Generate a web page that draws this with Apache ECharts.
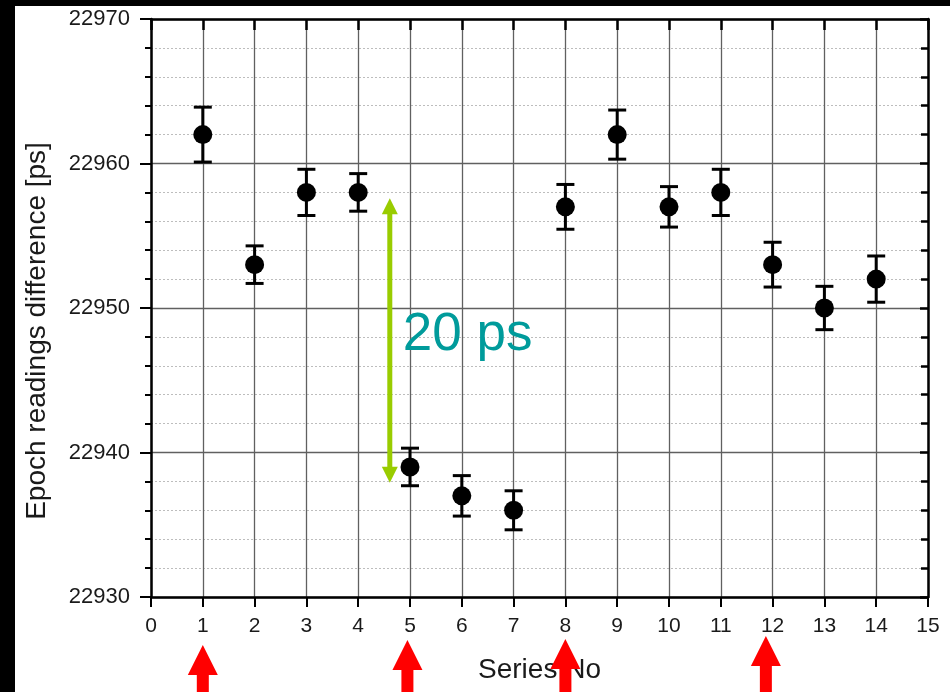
<!DOCTYPE html>
<html>
<head>
<meta charset="utf-8">
<script src="https://cdn.jsdelivr.net/npm/echarts@6/dist/echarts.min.js"></script>
<style>
  html, body { margin: 0; padding: 0; background: #fff; }
  #main { width: 950px; height: 692px; }
</style>
</head>
<body>
<div id="main"></div>
<script>
// values
const seriesNo = [1, 2, 3, 4, 5, 6, 7, 8, 9, 10, 11, 12, 13, 14];
const epochDiff = [22962, 22953, 22958, 22958, 22939, 22937, 22936, 22957, 22962, 22957, 22958, 22953, 22950, 22952];
const errBar = [1.9, 1.3, 1.6, 1.3, 1.3, 1.4, 1.35, 1.55, 1.7, 1.4, 1.6, 1.55, 1.5, 1.6];
const xTicks = [0, 15];
const yTicks = [22930, 22970];

// annotations
const redArrowAt = [1, 4.95, 8, 11.87];
const redArrowTip = [645, 640, 639, 636];
const gapArrow = { x: 4.61, from: 22957.6, to: 22937.9 };
const gapLabel = { text: '20 ps', x: 4.86, y: 22948.1 };

const FONT = '"Liberation Sans", Arial, sans-serif';
const chart = echarts.init(document.getElementById('main'));

const blackAxis = { show: true, onZero: false, lineStyle: { color: '#000', width: 2.5 } };

const option = {
  animation: false,
  backgroundColor: '#fff',
  textStyle: { fontFamily: FONT },
  grid: { left: 151, right: 22, top: 19, bottom: 95 },
  xAxis: [
    {
      type: 'value', min: xTicks[0], max: xTicks[1], interval: 1,
      position: 'bottom',
      axisLine: blackAxis,
      axisTick: { show: true, length: 10, lineStyle: { color: '#000', width: 2 } },
      axisLabel: { fontSize: 21, color: '#1a1a1a', margin: 19, fontFamily: FONT },
      splitLine: { show: true, lineStyle: { color: '#606060', width: 1.3 } },
      name: 'Series No', nameLocation: 'middle', nameGap: 59,
      nameTextStyle: { fontSize: 28, color: '#1a1a1a', fontFamily: FONT }
    },
    {
      type: 'value', min: xTicks[0], max: xTicks[1], interval: 1,
      position: 'top',
      axisLine: blackAxis,
      axisTick: { show: true, inside: true, length: 11, lineStyle: { color: '#000', width: 2.5 } },
      axisLabel: { show: false },
      splitLine: { show: false }
    }
  ],
  yAxis: [
    {
      type: 'value', min: yTicks[0], max: yTicks[1], interval: 10,
      position: 'left',
      axisLine: blackAxis,
      axisTick: { show: true, length: 11, lineStyle: { color: '#000', width: 2 } },
      minorTick: { show: true, splitNumber: 5, length: 6, lineStyle: { color: '#000', width: 2 } },
      axisLabel: { fontSize: 22, color: '#1a1a1a', margin: 21, fontFamily: FONT, formatter: v => String(v) },
      splitLine: { show: true, lineStyle: { color: '#606060', width: 1.3 } },
      minorSplitLine: { show: true, lineStyle: { color: '#bdbdbd', width: 1, type: [2, 2] } }
    },
    {
      type: 'value', min: yTicks[0], max: yTicks[1], interval: 10,
      position: 'right',
      axisLine: blackAxis,
      axisTick: { show: true, inside: true, length: 8, lineStyle: { color: '#000', width: 2.5 } },
      minorTick: { show: true, splitNumber: 5, length: 7, lineStyle: { color: '#000', width: 2.5 } },
      axisLabel: { show: false },
      splitLine: { show: false }
    }
  ],
  series: [
    {
      type: 'custom',
      name: 'error',
      z: 3,
      data: seriesNo.map((x, i) => [x, epochDiff[i] - errBar[i], epochDiff[i] + errBar[i]]),
      encode: { x: 0, y: [1, 2] },
      renderItem(params, api) {
        const x = api.value(0);
        const lo = api.coord([x, api.value(1)]);
        const hi = api.coord([x, api.value(2)]);
        const hw = 9;
        const style = { stroke: '#000', lineWidth: 3, fill: null };
        return {
          type: 'group',
          children: [
            { type: 'line', shape: { x1: lo[0], y1: lo[1], x2: hi[0], y2: hi[1] }, style },
            { type: 'line', shape: { x1: lo[0] - hw, y1: lo[1], x2: lo[0] + hw, y2: lo[1] }, style },
            { type: 'line', shape: { x1: hi[0] - hw, y1: hi[1], x2: hi[0] + hw, y2: hi[1] }, style }
          ]
        };
      }
    },
    {
      type: 'scatter',
      name: 'epoch',
      z: 4,
      symbol: 'circle',
      symbolSize: 19,
      itemStyle: { color: '#000', opacity: 1 },
      data: seriesNo.map((x, i) => [x, epochDiff[i]])
    }
  ]
};
chart.setOption(option);

// annotations placed through the axes
function px(x, y) {
  return chart.convertToPixel({ xAxisIndex: 0, yAxisIndex: 0 }, [x, y]);
}

const graphics = [
  { type: 'rect', shape: { x: 0, y: 0, width: 15, height: 692 }, style: { fill: '#000' }, z: 100 },
  { type: 'rect', shape: { x: 0, y: 0, width: 950, height: 6 }, style: { fill: '#000' }, z: 100 },
  {
    type: 'text', x: 37, y: 331, rotation: Math.PI / 2, z: 50,
    style: { text: 'Epoch readings difference [ps]', fill: '#1a1a1a', font: '28px ' + FONT, align: 'center', verticalAlign: 'middle' }
  }
];

// green double arrow
const gTop = px(gapArrow.x, gapArrow.from);
const gBot = px(gapArrow.x, gapArrow.to);
const green = '#99cc00';
const headL = 16, headW = 8;
graphics.push(
  { type: 'line', z: 50, shape: { x1: gTop[0], y1: gTop[1] + headL - 2, x2: gBot[0], y2: gBot[1] - headL + 2 }, style: { stroke: green, lineWidth: 5 } },
  { type: 'polygon', z: 50, shape: { points: [[gTop[0], gTop[1]], [gTop[0] - headW, gTop[1] + headL], [gTop[0] + headW, gTop[1] + headL]] }, style: { fill: green } },
  { type: 'polygon', z: 50, shape: { points: [[gBot[0], gBot[1]], [gBot[0] - headW, gBot[1] - headL], [gBot[0] + headW, gBot[1] - headL]] }, style: { fill: green } }
);

// "20 ps"
const lp = px(gapLabel.x, gapLabel.y);
graphics.push({
  type: 'text', x: lp[0], y: lp[1], z: 50,
  style: { text: gapLabel.text, fill: '#009b9b', font: '53px ' + FONT, align: 'left', verticalAlign: 'middle' }
});

// red arrows under the x axis
redArrowAt.forEach((v, i) => {
  const cx = px(v, yTicks[0])[0];
  const tip = redArrowTip[i];
  const base = tip + 30;
  graphics.push(
    { type: 'polygon', z: 60, shape: { points: [[cx, tip], [cx - 15, base], [cx + 15, base]] }, style: { fill: '#ff0000' } },
    { type: 'rect', z: 60, shape: { x: cx - 6, y: base - 1, width: 12, height: 692 - base + 1 }, style: { fill: '#ff0000' } }
  );
});

chart.setOption({ graphic: graphics });
</script>
</body>
</html>
